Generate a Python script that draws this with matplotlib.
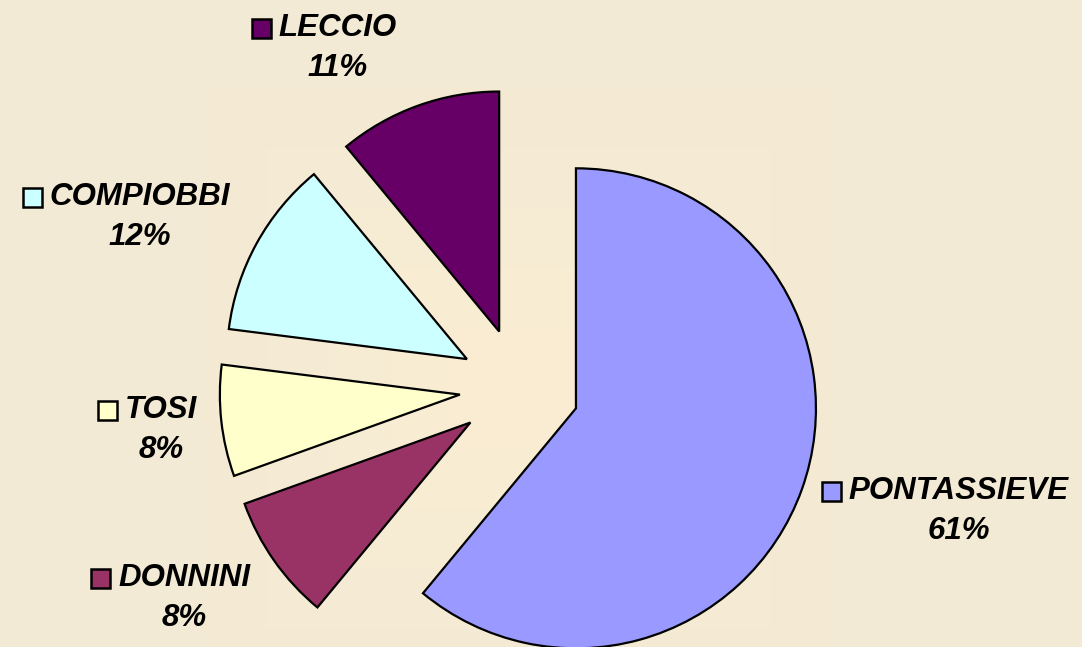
import numpy as np
import matplotlib
matplotlib.use("Agg")
import matplotlib.pyplot as plt
from matplotlib.patches import Rectangle

# data
zones = ["PONTASSIEVE", "DONNINI", "TOSI", "COMPIOBBI", "LECCIO"]
shares = [61.0, 8.5, 7.5, 12.0, 11.0]
pct_labels = ["61%", "8%", "8%", "12%", "11%"]
colors = ["#9999FF", "#993366", "#FFFFCC", "#CCFFFF", "#660066"]

# label layout (pixel position of name centre, top-left origin)
label_px = [(959, 491), (184, 578), (161, 410), (140, 197), (338, 28)]

W, H = 1082, 647
R = 240.0                 # pie radius in px
cx, cy = 519.5, 388.0     # pie centre in px (from top)

fig = plt.figure(figsize=(W / 100, H / 100), dpi=100)

# background: banded gradient like the original
bg = fig.add_axes([0, 0, 1, 1])
yy, xx = np.mgrid[0:H, 0:W]
dx = np.abs(xx - 517.5) / 315.0
dy = np.abs(yy - 388.0) / 300.0
d = np.clip(np.maximum(dx, dy), 0, 1.6)
lev = np.floor(np.clip((1.0 - d) * 5 + 1, 0, 6)) / 6.0
outer = np.array([243, 234, 213]) / 255.0
inner = np.array([251, 237, 211]) / 255.0
img = outer[None, None, :] * (1 - lev[..., None]) + inner[None, None, :] * lev[..., None]
bg.imshow(img, extent=[0, W, H, 0], aspect="auto", interpolation="nearest")
bg.set_axis_off()

ax = fig.add_axes([0, 0, 1, 1])
ax.patch.set_alpha(0)
wedges, _ = ax.pie(shares, colors=colors, startangle=90, counterclock=False,
                   explode=[0.25] * len(shares),
                   wedgeprops=dict(edgecolor="black", linewidth=1.6))
ax.set_xlim(-cx / R, (W - cx) / R)
ax.set_ylim(-(H - cy) / R, cy / R)
ax.set_aspect("auto")
ax.set_axis_off()


def to_data(px, py):
    return (px - cx) / R, (cy - py) / R


font = dict(family=["Liberation Sans", "DejaVu Sans"], weight="bold",
            style="italic", size=22.5, color="black")

names = []
for name, pct, (px, py) in zip(zones, pct_labels, label_px):
    x, y = to_data(px, py)
    t = ax.text(x, y, name, ha="center", va="center", **font)
    x2, y2 = to_data(px, py + 40)
    ax.text(x2, y2, pct, ha="center", va="center", **font)
    names.append(t)

fig.canvas.draw()
renderer = fig.canvas.get_renderer()
sq = 19
for t, c in zip(names, colors):
    bb = t.get_window_extent(renderer)
    x0 = bb.x0 - 8 - sq
    ymid = (bb.y0 + bb.y1) / 2
    fig.patches.append(Rectangle((x0, ymid - sq / 2), sq, sq, transform=None,
                                 facecolor=c, edgecolor="black", linewidth=1.8,
                                 figure=fig))

fig.savefig("out.png", dpi=100)
